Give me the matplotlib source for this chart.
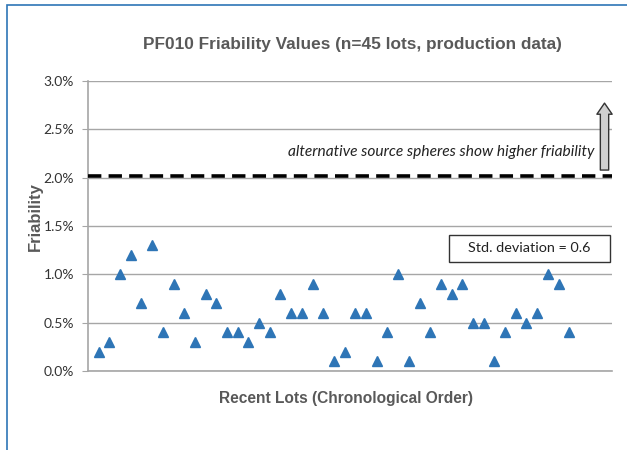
import matplotlib.pyplot as plt
from matplotlib.patches import Rectangle

# ----------------- DATA -----------------
lots = list(range(1, 46))
friability = [0.2, 0.3, 1.0, 1.2, 0.7, 1.3, 0.4, 0.9, 0.6, 0.3,
              0.8, 0.7, 0.4, 0.4, 0.3, 0.5, 0.4, 0.8, 0.6, 0.6,
              0.9, 0.6, 0.1, 0.2, 0.6, 0.6, 0.1, 0.4, 1.0, 0.1,
              0.7, 0.4, 0.9, 0.8, 0.9, 0.5, 0.5, 0.1, 0.4, 0.6,
              0.5, 0.6, 1.0, 0.9, 0.4]
limit = 2.02
y_ticks = [0.0, 0.5, 1.0, 1.5, 2.0, 2.5, 3.0]
y_tick_labels = ["0.0%", "0.5%", "1.0%", "1.5%", "2.0%", "2.5%", "3.0%"]

GRAY = "#595959"
BLUE = "#2E75B6"
W, H = 627, 450

fig = plt.figure(figsize=(6.27, 4.5), dpi=100)
plt.rcParams["font.family"] = ["Liberation Sans", "DejaVu Sans"]

# blue frame at left/top of the slide
fig.patches.append(Rectangle((7 / W, -0.1), 1.2, 1 - 5 / H + 0.1,
                             transform=fig.transFigure, fill=False,
                             edgecolor=BLUE, linewidth=1.2))

ax = fig.add_axes([88 / W, 79 / H, 524 / W, 290 / H])

ax.set_xlim(0, 49)
ax.set_ylim(0, 3.0)
ax.set_yticks(y_ticks)
ax.set_yticklabels(y_tick_labels, fontsize=10, color="#333333",
                   family=["Lato", "DejaVu Sans"])
ax.set_xticks([])
ax.tick_params(axis="y", length=4, color="#A6A6A6", pad=6)
ax.grid(axis="y", color="#A6A6A6", linewidth=1)
ax.set_axisbelow(True)
for s in ["top", "right"]:
    ax.spines[s].set_visible(False)
for s in ["left", "bottom"]:
    ax.spines[s].set_color("#A6A6A6")
    ax.spines[s].set_linewidth(1.2)

ax.plot(lots, friability, linestyle="none", marker="^", markersize=7.5,
        color=BLUE, markeredgecolor=BLUE)

ax.axhline(limit, color="black", linestyle=(0, (3.7, 2)), linewidth=2.6, zorder=3)

ax.text(33, 2.27, "alternative source spheres show higher friability",
        fontsize=11.2, style="italic", family=["Lato", "DejaVu Sans"],
        ha="center", va="center", color="#222222")

ax.annotate("", xy=(48.3, 2.8), xytext=(48.3, 2.05),
            arrowprops=dict(arrowstyle="simple,head_width=1.1,head_length=0.8,tail_width=0.6",
                            fc="#D0D0D0", ec="#333333", lw=1))

# std. deviation callout box (pixel extents of the slide box)
bx0, bx1, by0, by1 = 449, 610, 262, 235
fig.patches.append(Rectangle((bx0 / W, 1 - by0 / H), (bx1 - bx0) / W, (by0 - by1) / H,
                             transform=fig.transFigure, fc="white", ec="#333333",
                             lw=1, zorder=5))
fig.text((bx0 + bx1) / 2 / W, 1 - (by0 + by1) / 2 / H, "Std. deviation = 0.6",
         fontsize=10.4, family=["Lato", "DejaVu Sans"], ha="center", va="center",
         color="#222222", zorder=6)

fig.text(352 / W, 1 - 45 / H, "PF010 Friability Values (n=45 lots, production data)",
         fontsize=12.4, fontweight="bold", color=GRAY, ha="center", va="center")
fig.text(35 / W, 1 - 217 / H, "Friability", rotation=90, fontsize=12,
         fontweight="bold", color=GRAY, ha="center", va="center")
fig.text(346 / W, 1 - 398 / H, "Recent Lots (Chronological Order)", fontsize=11.2,
         fontweight="bold", color=GRAY, ha="center", va="center")

fig.savefig("out.png", dpi=100)
